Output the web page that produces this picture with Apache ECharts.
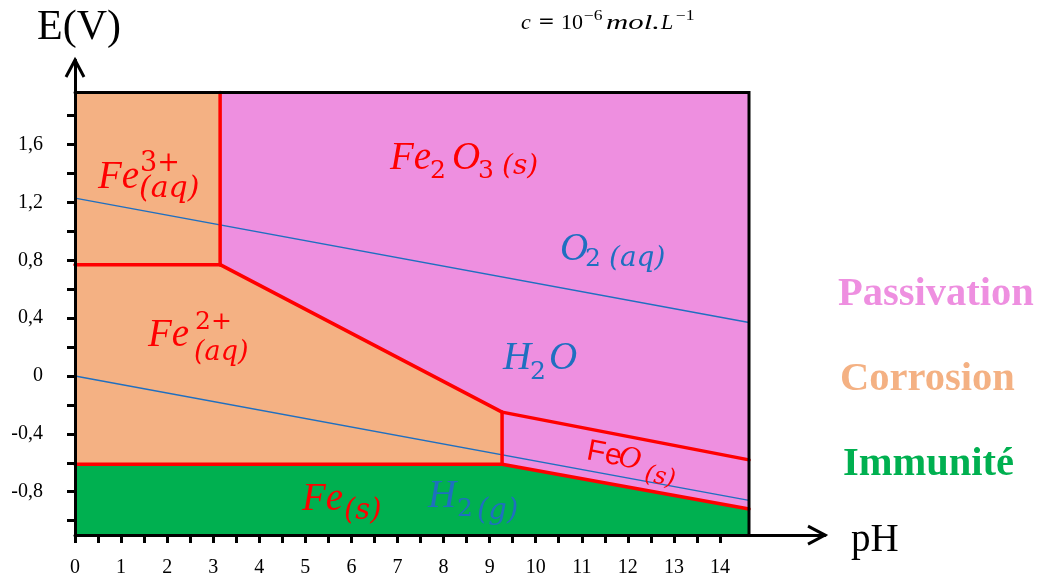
<!DOCTYPE html>
<html>
<head>
<meta charset="utf-8">
<script src="https://cdn.jsdelivr.net/npm/echarts@6/dist/echarts.min.js"></script>
<style>
html,body{margin:0;padding:0;background:#fff;}
#chart{width:1039px;height:581px;}
</style>
</head>
<body>
<div id="chart"></div>
<script>
// ---------- data ----------
const phTickMax = 14;            // last labelled pH tick
const eTickMin = -1.0, eTickMax = 1.8;
const plotPhMax = 14.63;         // right edge of diagram
const plotEMax = 1.96;           // top edge of diagram
const plotEMin = -1.1;           // bottom edge (x axis)
const axisPhMax = 16.28;         // arrow tip of pH axis
const axisEMax = 2.185;          // arrow tip of E axis

// stability domains (pH, E)
const regionFe3 = [[0,0.77],[3.15,0.77],[3.15,1.96],[0,1.96]];
const regionFe2 = [[0,-0.61],[9.27,-0.61],[9.27,-0.25],[3.15,0.77],[0,0.77]];
const regionFe2O3 = [[3.15,1.96],[14.63,1.96],[14.63,-0.58],[9.27,-0.25],[3.15,0.77]];
const regionFeO = [[9.27,-0.25],[14.63,-0.58],[14.63,-0.92],[9.27,-0.61]];
const regionFe = [[0,-1.1],[14.63,-1.1],[14.63,-0.92],[9.27,-0.61],[0,-0.61]];

// boundaries
const lineFe3Fe2 = [[0,0.77],[3.15,0.77]];
const lineFe3Fe2O3 = [[3.15,0.77],[3.15,1.96]];
const lineFe2Fe2O3 = [[3.15,0.77],[9.27,-0.25]];
const lineFe2Fe = [[0,-0.61],[9.27,-0.61]];
const lineFe2FeO = [[9.27,-0.61],[9.27,-0.25]];
const lineFe2O3FeO = [[9.27,-0.25],[14.63,-0.58]];
const lineFeOFe = [[9.27,-0.61],[14.63,-0.92]];
// water lines
const lineO2H2O = [[0,1.23],[14.63,0.37]];
const lineH2OH2 = [[0,0],[14.63,-0.86]];
// frame
const frameLine = [[0,1.96],[14.63,1.96],[14.63,-1.1]];

// ---------- layout ----------
const X0 = 75, XS = 46.07, Y0 = 376, YS = 144.6;
const px = x => X0 + x * XS;
const py = y => Y0 - y * YS;

const ORANGE = '#F4B183', PINK = '#EE8FE0', GREEN = '#00B050', RED = '#FF0000', BLUE = '#1F6FC0';
const SERIF = '"Liberation Serif", "Times New Roman", serif';
const DSERIF = '"DejaVu Serif", serif';

function polySeries(pts, color) {
  return {
    type: 'custom', xAxisIndex: 0, yAxisIndex: 0, z: 1, silent: true,
    data: [[0, 0]],
    renderItem: function (params, api) {
      return { type: 'polygon', shape: { points: pts.map(p => api.coord(p)) },
               style: { fill: color, stroke: color, lineWidth: 0.5 } };
    }
  };
}
function lineSeries(pts, color, width, z) {
  return {
    type: 'line', xAxisIndex: 0, yAxisIndex: 0, data: pts, symbol: 'none', z: z,
    silent: true, animation: false,
    lineStyle: { color: color, width: width, cap: 'round', join: 'miter' }
  };
}
function T(x, y, text, size, color, italic, bold, family, sx) {
  const font = (italic ? 'italic ' : '') + (bold ? 'bold ' : '') + size + 'px ' + (family || SERIF);
  const el = { type: 'text', x: x, y: y, z: 30,
    style: { text: text, font: font, fill: color, textAlign: 'left', textVerticalAlign: 'middle',
             align: 'left', verticalAlign: 'middle' } };
  if (sx) el.scaleX = sx;
  return el;
}
// main symbol, digit sub/sup, parenthesised state
const M = (x, y, t, c) => T(x, y, t, 39, c, true);
const D = (x, y, t, c, s) => T(x, y, t, s || 25, c, false, false, DSERIF);
const P = (x, y, t, c, s) => T(x, y, t, s || 28, c, true, false, DSERIF);

const graphics = [
  // axis arrows
  { type: 'polyline', z: 25, shape: { points: [[px(axisPhMax) - 17, py(plotEMin) - 9], [px(axisPhMax), py(plotEMin)], [px(axisPhMax) - 17, py(plotEMin) + 9]] },
    style: { stroke: '#000', lineWidth: 3, fill: null, lineJoin: 'miter' } },
  { type: 'polyline', z: 25, shape: { points: [[X0 - 9, py(axisEMax) + 17], [X0, py(axisEMax)], [X0 + 9, py(axisEMax) + 17]] },
    style: { stroke: '#000', lineWidth: 3, fill: null, lineJoin: 'miter' } },
  // axis names
  T(37, 28, 'E(V)', 42, '#000', false, false),
  T(851, 541, 'pH', 39, '#000', false, false),
  // concentration
  T(521, 23, 'c', 22, '#000', true),
  T(538, 23, '=', 20, '#000', false, false, DSERIF),
  T(561, 23, '10', 22, '#000', false),
  T(584, 16, '−6', 14, '#000', false, false, SERIF, 1.25),
  T(606, 23, 'mol.', 22, '#000', true, false, SERIF, 1.4),
  T(661, 23, 'L', 22, '#000', true),
  T(676, 16, '−1', 14, '#000', false, false, SERIF, 1.25),
  // Fe3+
  M(98, 178, 'Fe', RED), D(140, 164, '3+', RED, 27), P(139, 189, '(aq)', RED, 30),
  // Fe2O3(s)
  M(390, 159, 'Fe', RED), D(430, 171, '2', RED), M(452, 159, 'O', RED),
  D(478, 171, '3', RED), P(502, 167, '(s)', RED),
  // Fe2+
  M(148, 336, 'Fe', RED), D(195, 322, '2+', RED), P(194, 353, '(aq)', RED, 27),
  // O2(aq)
  M(560, 250, 'O', BLUE), D(585, 259, '2', BLUE), P(609, 259, '(aq)', BLUE, 28),
  // H2O
  M(503, 359, 'H', BLUE), D(530, 372, '2', BLUE), M(549, 359, 'O', BLUE),
  // Fe(s)
  M(302, 500, 'Fe', RED), P(344, 511, '(s)', RED, 29),
  // H2(g)
  M(428, 497, 'H', BLUE), D(457, 509, '2', BLUE), P(477, 511, '(g)', BLUE, 29),
  // FeO(s) rotated
  { type: 'group', x: 587, y: 451, rotation: -0.19, z: 30, children: [
      T(0, 0, 'Fe', 30, RED, false, false, '"Liberation Sans", Arial, sans-serif'),
      T(32, 0, 'O', 31, RED, true),
      T(61, 12, '(s)', 24, RED, true, false, DSERIF)
  ] },
  // legend words
  T(838, 295, 'Passivation', 40.5, PINK, false, true),
  T(840, 380, 'Corrosion', 40.5, ORANGE, false, true),
  T(843, 465, 'Immunité', 40.5, GREEN, false, true)
];

const axisLabelStyle = { fontFamily: SERIF, fontSize: 20, color: '#000' };

const option = {
  animation: false,
  backgroundColor: '#fff',
  grid: [
    { left: X0, top: py(axisEMax), width: XS * axisPhMax, height: YS * (axisEMax - plotEMin), containLabel: false },
    { left: X0, top: py(eTickMax), width: XS * phTickMax, height: YS * (eTickMax - eTickMin), containLabel: false }
  ],
  xAxis: [
    { gridIndex: 0, type: 'value', min: 0, max: axisPhMax, z: 10,
      axisLine: { onZero: false, lineStyle: { color: '#000', width: 3 } },
      axisTick: { show: false }, axisLabel: { show: false }, splitLine: { show: false } },
    { gridIndex: 1, type: 'value', min: 0, max: phTickMax, interval: 0.5, offset: (eTickMin - plotEMin) * YS, z: 10,
      axisLine: { show: false, onZero: false },
      axisTick: { show: true, length: 8, lineStyle: { color: '#000', width: 3 } },
      axisLabel: Object.assign({ margin: 23, formatter: v => Math.abs(v - Math.round(v)) < 1e-6 ? String(Math.round(v)) : '' }, axisLabelStyle),
      splitLine: { show: false } }
  ],
  yAxis: [
    { gridIndex: 0, type: 'value', min: plotEMin, max: axisEMax, z: 10,
      axisLine: { onZero: false, lineStyle: { color: '#000', width: 3 } },
      axisTick: { show: false }, axisLabel: { show: false }, splitLine: { show: false } },
    { gridIndex: 1, type: 'value', min: eTickMin, max: eTickMax, interval: 0.2, z: 10,
      axisLine: { show: false, onZero: false },
      axisTick: { show: true, length: 8, lineStyle: { color: '#000', width: 3 } },
      axisLabel: Object.assign({ margin: 32, formatter: function (v) {
        const q = v / 0.4;
        if (Math.abs(q - Math.round(q)) > 1e-6) return '';
        const r = Math.round(v * 10) / 10;
        return r === 0 ? '0' : r.toFixed(1).replace('.', ',');
      } }, axisLabelStyle),
      splitLine: { show: false } }
  ],
  series: [
    polySeries(regionFe3, ORANGE),
    polySeries(regionFe2, ORANGE),
    polySeries(regionFe2O3, PINK),
    polySeries(regionFeO, PINK),
    polySeries(regionFe, GREEN),
    lineSeries(lineO2H2O, BLUE, 1.3, 3),
    lineSeries(lineH2OH2, BLUE, 1.3, 3),
    lineSeries(lineFe3Fe2, RED, 3.5, 4),
    lineSeries(lineFe3Fe2O3, RED, 3.5, 4),
    lineSeries(lineFe2Fe2O3, RED, 3.5, 4),
    lineSeries(lineFe2Fe, RED, 3.5, 4),
    lineSeries(lineFe2FeO, RED, 3.5, 4),
    lineSeries(lineFe2O3FeO, RED, 3.5, 4),
    lineSeries(lineFeOFe, RED, 3.5, 4),
    lineSeries(frameLine, '#000', 3, 5)
  ],
  graphic: graphics
};

const chart = echarts.init(document.getElementById('chart'), null, { renderer: 'canvas' });
chart.setOption(option);
</script>
</body>
</html>
